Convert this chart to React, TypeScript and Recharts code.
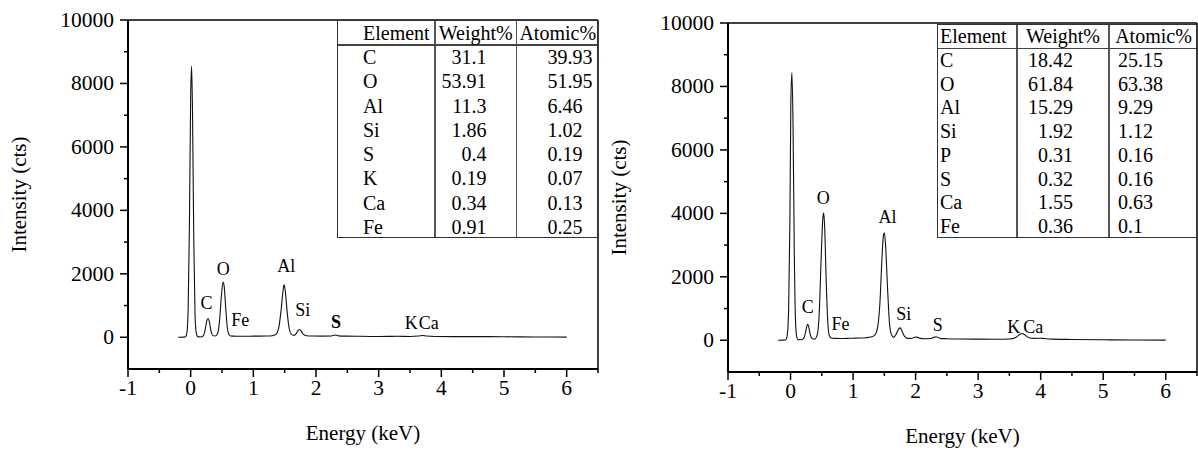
import React from 'react';
import { ComposedChart, Line, Scatter, XAxis, YAxis, ReferenceLine } from 'recharts';

// ---------- Spectrum A (left) ----------
const energyA = [
  -0.2, -0.1, -0.08, -0.06, -0.04, -0.02, 0.0, 0.015, 0.03, 0.05, 0.07, 0.09, 0.11, 0.15, 0.2,
  0.23, 0.255, 0.278, 0.3, 0.325, 0.35, 0.39, 0.43, 0.46, 0.49, 0.517, 0.535, 0.56, 0.585, 0.61,
  0.64, 0.7, 0.8, 0.9, 1.0, 1.1, 1.2, 1.3, 1.36, 1.4, 1.44, 1.47, 1.49, 1.51, 1.54, 1.57, 1.61,
  1.65, 1.69, 1.715, 1.74, 1.77, 1.8, 1.85, 1.95, 2.1, 2.25, 2.29, 2.32, 2.36, 2.5, 2.7, 3.0,
  3.3, 3.5, 3.64, 3.7, 3.76, 3.9, 4.2, 4.6, 5.0, 5.5, 6.0,
];
const countsA = [
  0, 5, 20, 150, 900, 3500, 7600, 8550, 7000, 3000, 700, 120, 20, 10, 40,
  230, 500, 590, 470, 190, 60, 40, 120, 500, 1300, 1740, 1600, 900, 300, 90,
  40, 35, 30, 30, 35, 35, 40, 50, 90, 250, 800, 1400, 1660, 1450, 800, 300, 90,
  60, 130, 220, 245, 180, 90, 50, 40, 35, 40, 65, 70, 45, 35, 30, 25,
  30, 25, 40, 55, 40, 25, 20, 20, 15, 10, 5,
];

// ---------- Spectrum B (right) ----------
const energyB = [
  -0.2, -0.1, -0.07, -0.05, -0.03, -0.01, 0.005, 0.022, 0.04, 0.06, 0.08, 0.1, 0.12, 0.16, 0.21,
  0.24, 0.26, 0.275, 0.29, 0.315, 0.35, 0.39, 0.43, 0.46, 0.49, 0.515, 0.53, 0.545, 0.57, 0.595,
  0.62, 0.65, 0.7, 0.8, 0.9, 1.0, 1.1, 1.2, 1.3, 1.36, 1.4, 1.43, 1.46, 1.485, 1.5, 1.52, 1.55,
  1.58, 1.61, 1.65, 1.69, 1.73, 1.755, 1.78, 1.82, 1.87, 1.93, 1.98, 2.02, 2.07, 2.15, 2.25,
  2.3, 2.34, 2.39, 2.5, 2.7, 3.0, 3.3, 3.5, 3.6, 3.67, 3.7, 3.74, 3.8, 3.9, 4.0, 4.05, 4.2,
  4.5, 5.0, 5.5, 6.0,
];
const countsB = [
  0, 5, 30, 200, 1000, 3800, 7500, 8440, 6800, 2800, 600, 100, 20, 15, 60,
  250, 440, 505, 430, 180, 50, 40, 200, 900, 2600, 3800, 4020, 3600, 1900, 600,
  150, 70, 60, 55, 60, 65, 70, 80, 110, 200, 500, 1200, 2500, 3300, 3390, 3000, 1700,
  600, 200, 90, 200, 360, 390, 300, 130, 60, 55, 95, 100, 60, 50, 55,
  100, 105, 60, 50, 40, 35, 30, 40, 90, 190, 215, 180, 90, 60, 65, 55, 35,
  25, 15, 10, 5,
];

// ---------- Peak annotations (energy, counts) ----------
const peakNamesA = ['C', 'O', 'Fe', 'Al', 'Si', 'S', 'K', 'Ca'];
const peakXA = [0.253, 0.518, 0.79, 1.527, 1.79, 2.32, 3.52, 3.8];
const peakYA = [1085, 2140, 540, 2250, 845, 485, 450, 450];

const peakNamesB = ['C', 'O', 'Fe', 'Al', 'Si', 'S', 'K', 'Ca'];
const peakXB = [0.277, 0.525, 0.8, 1.55, 1.81, 2.355, 3.57, 3.88];
const peakYB = [1050, 4470, 525, 3890, 840, 470, 420, 420];

// ---------- Axes ----------
const xTicks = [-1, -0.5, 0, 0.5, 1, 1.5, 2, 2.5, 3, 3.5, 4, 4.5, 5, 5.5, 6, 6.5];
const yTicks = [-1000, 0, 1000, 2000, 3000, 4000, 5000, 6000, 7000, 8000, 9000, 10000];

// ---------- Tables ----------
const tableHeaders = ['Element', 'Weight%', 'Atomic%'];
const elementsA = ['C', 'O', 'Al', 'Si', 'S', 'K', 'Ca', 'Fe'];
const weightA = ['31.1', '53.91', '11.3', '1.86', '0.4', '0.19', '0.34', '0.91'];
const atomicA = ['39.93', '51.95', '6.46', '1.02', '0.19', '0.07', '0.13', '0.25'];
const elementsB = ['C', 'O', 'Al', 'Si', 'P', 'S', 'Ca', 'Fe'];
const weightB = ['18.42', '61.84', '15.29', '1.92', '0.31', '0.32', '1.55', '0.36'];
const atomicB = ['25.15', '63.38', '9.29', '1.12', '0.16', '0.16', '0.63', '0.1'];

const FONT = 'Liberation Serif, DejaVu Serif, serif';

const XTick = (props: any) => {
  const { x, y, payload } = props;
  const v = payload.value;
  const major = Math.abs(v - Math.round(v)) < 1e-6;
  return (
    <g>
      <line x1={x} x2={x} y1={y} y2={y + (major ? 8 : 4)} stroke="#000" strokeWidth={1.5} />
      {major && v <= 6 && (
        <text x={x} y={y + 19} textAnchor="middle" dominantBaseline="central" fontSize={21.5} style={{ fontFamily: FONT }} fill="#000">
          {String(v)}
        </text>
      )}
    </g>
  );
};

const YTick = (props: any) => {
  const { x, y, payload } = props;
  const v = payload.value;
  if (v < 0) return <g />;
  const major = v % 2000 === 0;
  return (
    <g>
      <line x1={x - (major ? 8 : 4)} x2={x} y1={y} y2={y} stroke="#000" strokeWidth={1.5} />
      {major && (
        <text x={x - 14} y={y} textAnchor="end" dominantBaseline="central" fontSize={21.5} style={{ fontFamily: FONT }} fill="#000">
          {String(v)}
        </text>
      )}
    </g>
  );
};

function Panel(props: {
  energy: number[];
  counts: number[];
  names: string[];
  px: number[];
  py: number[];
  bold: string[];
  width: number;
  margin: { top: number; right: number; left: number; bottom: number };
  xAxisHeight: number;
}) {
  const spectrum = props.energy.map((e, i) => ({ x: e, y: props.counts[i] }));
  const labels = props.names.map((n, i) => ({ x: props.px[i], y: props.py[i], name: n }));
  const bold = props.bold;
  return (
    <ComposedChart width={props.width} height={454} margin={props.margin} style={{ fontFamily: FONT }}>
      <XAxis
        type="number"
        dataKey="x"
        domain={[-1, 6.5]}
        ticks={xTicks}
        interval={0}
        allowDataOverflow
        height={props.xAxisHeight}
        tickSize={0}
        tickMargin={0}
        tick={<XTick />}
        axisLine={{ stroke: '#000', strokeWidth: 2 }}
        label={(lp: any) => {
          const vb = lp.viewBox || {};
          return (
            <text x={vb.x + vb.width / 2} y={vb.y + 64} textAnchor="middle" dominantBaseline="central" fontSize={21} style={{ fontFamily: FONT }} fill="#000">
              Energy (keV)
            </text>
          );
        }}
      />
      <YAxis
        type="number"
        domain={[-1000, 10000]}
        ticks={yTicks}
        interval={0}
        allowDataOverflow
        width={128}
        tickSize={0}
        tickMargin={0}
        tick={<YTick />}
        axisLine={{ stroke: '#000', strokeWidth: 2 }}
        label={(lp: any) => {
          const vb = lp.viewBox || {};
          const cx = vb.x + 19;
          const cy = vb.y + vb.height / 2;
          return (
            <text x={cx} y={cy} transform={`rotate(-90, ${cx}, ${cy})`} textAnchor="middle" dominantBaseline="central" fontSize={21} style={{ fontFamily: FONT }} fill="#000">
              Intensity (cts)
            </text>
          );
        }}
      />
      <ReferenceLine y={10000} stroke="#000" strokeWidth={1.5} />
      <ReferenceLine x={6.5} stroke="#000" strokeWidth={1.5} />
      <Line
        data={spectrum}
        dataKey="y"
        type="monotone"
        dot={false}
        stroke="#111"
        strokeWidth={1.1}
        isAnimationActive={false}
      />
      <Scatter
        data={labels}
        dataKey="y"
        isAnimationActive={false}
        shape={(sp: any) => (
          <text
            x={sp.cx}
            y={sp.cy}
            textAnchor="middle"
            dominantBaseline="central"
            fontSize={18}
            fontWeight={bold.includes(sp.payload.name) ? 'bold' : 'normal'}
            style={{ fontFamily: FONT }}
            fill="#000"
          >
            {sp.payload.name}
          </text>
        )}
      />
    </ComposedChart>
  );
}

type ColSpec = { w: number; headAlign: 'left' | 'center' | 'right'; headPad: number; align: 'left' | 'right'; pad: number };

function EdsTable(props: {
  left: number;
  top: number;
  width: number;
  height: number;
  cols: ColSpec[];
  columns: string[][];
}) {
  const { left, top, width, height, cols, columns } = props;
  const nRows = columns[0].length + 1;
  const rowH = height / nRows;
  const colX: number[] = [];
  let acc = 0;
  cols.forEach((c) => {
    colX.push(acc);
    acc += c.w;
  });
  const cellStyle = (ci: number, ri: number, header: boolean): React.CSSProperties => {
    const c = cols[ci];
    const align = header ? c.headAlign : c.align;
    const pad = header ? c.headPad : c.pad;
    return {
      position: 'absolute',
      left: colX[ci],
      top: ri * rowH,
      width: c.w,
      height: rowH,
      lineHeight: `${rowH}px`,
      textAlign: align,
      paddingLeft: align === 'left' ? pad : 0,
      paddingRight: align === 'right' ? pad : 0,
      boxSizing: 'border-box',
      whiteSpace: 'nowrap',
      fontSize: 20,
      fontFamily: FONT,
      color: '#000',
    };
  };
  return (
    <div
      style={{
        position: 'absolute',
        left,
        top,
        width,
        height,
        border: '1.5px solid #333',
        boxSizing: 'border-box',
        background: '#fff',
      }}
    >
      {colX.slice(1).map((cx, i) => (
        <div key={'v' + i} style={{ position: 'absolute', left: cx - 1, top: 0, width: 1.5, height: '100%', background: '#555' }} />
      ))}
      <div style={{ position: 'absolute', left: 0, top: rowH - 1, width: '100%', height: 1.5, background: '#444' }} />
      {tableHeaders.map((h, ci) => (
        <div key={'h' + ci} style={cellStyle(ci, 0, true)}>
          {h}
        </div>
      ))}
      {columns.map((col, ci) =>
        col.map((val, ri) => (
          <div key={ci + '-' + ri} style={cellStyle(ci, ri + 1, false)}>
            {val}
          </div>
        ))
      )}
    </div>
  );
}

export default function App() {
  return (
    <div style={{ position: 'absolute', left: 0, top: 0, width: 1198, height: 454, background: '#fff', overflow: 'hidden', fontFamily: FONT }}>
      <div style={{ position: 'absolute', left: 0, top: 0 }}>
        <Panel
          energy={energyA}
          counts={countsA}
          names={peakNamesA}
          px={peakXA}
          py={peakYA}
          bold={['S']}
          width={600}
          margin={{ top: 20, right: 2, left: 0, bottom: 0 }}
          xAxisHeight={85}
        />
      </div>
      <div style={{ position: 'absolute', left: 600, top: 0 }}>
        <Panel
          energy={energyB}
          counts={countsB}
          names={peakNamesB}
          px={peakXB}
          py={peakYB}
          bold={[]}
          width={598}
          margin={{ top: 23, right: 1, left: 0, bottom: 0 }}
          xAxisHeight={82}
        />
      </div>
      <EdsTable
        left={337}
        top={20}
        width={261}
        height={218}
        cols={[
          { w: 97, headAlign: 'left', headPad: 25, align: 'left', pad: 25 },
          { w: 81.5, headAlign: 'center', headPad: 0, align: 'right', pad: 30 },
          { w: 82.5, headAlign: 'center', headPad: 0, align: 'left', pad: 31 },
        ]}
        columns={[elementsA, weightA, atomicA]}
      />
      <EdsTable
        left={937}
        top={24}
        width={260}
        height={214}
        cols={[
          { w: 79, headAlign: 'left', headPad: 2, align: 'left', pad: 2 },
          { w: 92, headAlign: 'center', headPad: 0, align: 'right', pad: 36 },
          { w: 89, headAlign: 'center', headPad: 0, align: 'left', pad: 9 },
        ]}
        columns={[elementsB, weightB, atomicB]}
      />
    </div>
  );
}
